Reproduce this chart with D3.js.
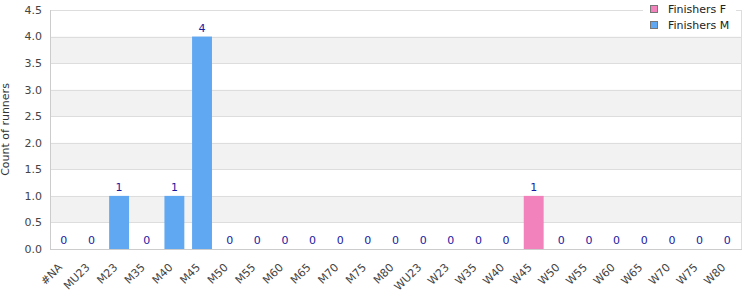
<!DOCTYPE html>
<html>
<head>
<meta charset="utf-8">
<script src="https://cdn.jsdelivr.net/npm/d3@7"></script>
<style>
  body { margin: 0; background: #fff; }
  text { font-family: "DejaVu Sans", Verdana, sans-serif; }
</style>
</head>
<body>
<div id="chart"></div>
<script>
"use strict";

// categories and the two series
var categories = ["#NA","MU23","M23","M35","M40","M45","M50","M55","M60","M65","M70","M75","M80",
                  "WU23","W23","W35","W40","W45","W50","W55","W60","W65","W70","W75","W80"];
var finishersF = [0,0,0,0,0,0,0,0,0,0,0,0,0, 0,0,0,0,1,0,0,0,0,0,0,0];
var finishersM = [0,0,1,0,1,4,0,0,0,0,0,0,0, 0,0,0,0,0,0,0,0,0,0,0,0];
var seriesNames = ["Finishers F", "Finishers M"];
var yTicks = [0,0.5,1,1.5,2,2.5,3,3.5,4,4.5];

var colors = { "Finishers F": "#f282bb", "Finishers M": "#60a8f2" };

var width = 750, height = 300;
var plotL = 50, plotR = 741, plotT = 10, plotB = 249;

var svg = d3.select("#chart").append("svg")
  .attr("width", width)
  .attr("height", height);

var x = d3.scaleBand()
  .domain(categories)
  .range([plotL, plotR])
  .paddingInner(0.28)
  .paddingOuter(0.14);

var y = d3.scaleLinear()
  .domain([0, 4.5])
  .range([plotB, plotT]);

// alternating bands
var bands = d3.range(0.5, 4.5, 1);
svg.selectAll("rect.band")
  .data(bands)
  .enter().append("rect")
  .attr("class", "band")
  .attr("x", plotL)
  .attr("width", plotR - plotL)
  .attr("y", function(d){ return y(d + 0.5); })
  .attr("height", function(d){ return y(d) - y(d + 0.5); })
  .attr("fill", "#f2f2f2");

// grid lines
svg.selectAll("line.grid")
  .data(yTicks)
  .enter().append("line")
  .attr("class", "grid")
  .attr("x1", plotL).attr("x2", plotR)
  .attr("y1", function(d){ return Math.round(y(d)) + 0.5; })
  .attr("y2", function(d){ return Math.round(y(d)) + 0.5; })
  .attr("stroke", "#dddddd");

// frame
svg.append("line")
  .attr("x1", plotR + 0.5).attr("x2", plotR + 0.5)
  .attr("y1", plotT).attr("y2", plotB)
  .attr("stroke", "#dddddd");
svg.append("line")
  .attr("x1", plotL + 0.5).attr("x2", plotL + 0.5)
  .attr("y1", plotT).attr("y2", plotB + 1)
  .attr("stroke", "#cccccc");
svg.append("line")
  .attr("x1", plotL).attr("x2", plotR + 1)
  .attr("y1", plotB + 0.5).attr("y2", plotB + 0.5)
  .attr("stroke", "#cccccc");

// stacked bars
var rows = categories.map(function(c, i){
  return { cat: c, "Finishers F": finishersF[i], "Finishers M": finishersM[i] };
});
var stack = d3.stack().keys(seriesNames)(rows);

svg.selectAll("g.series")
  .data(stack)
  .enter().append("g")
  .attr("class", "series")
  .attr("fill", function(d){ return colors[d.key]; })
  .selectAll("rect")
  .data(function(d){ return d; })
  .enter().append("rect")
  .attr("x", function(d){ return x(d.data.cat); })
  .attr("width", x.bandwidth())
  .attr("y", function(d){ return y(d[1]); })
  .attr("height", function(d){ return y(d[0]) - y(d[1]); });

// total labels
svg.selectAll("text.total")
  .data(rows)
  .enter().append("text")
  .attr("class", "total")
  .attr("x", function(d){ return x(d.cat) + x.bandwidth() / 2; })
  .attr("y", function(d){ return y(d["Finishers F"] + d["Finishers M"]) - 5; })
  .attr("text-anchor", "middle")
  .attr("font-size", "11px")
  .attr("fill", "#1a1aa0")
  .text(function(d){ return d["Finishers F"] + d["Finishers M"]; });

// y axis labels
svg.selectAll("text.ytick")
  .data(yTicks)
  .enter().append("text")
  .attr("class", "ytick")
  .attr("x", 42)
  .attr("y", function(d){ return y(d); })
  .attr("dy", "0.35em")
  .attr("text-anchor", "end")
  .attr("font-size", "11px")
  .attr("fill", "#444")
  .text(function(d){ return d.toFixed(1); });

svg.append("text")
  .attr("transform", "translate(9," + ((plotT + plotB) / 2) + ") rotate(-90)")
  .attr("text-anchor", "middle")
  .attr("font-size", "11px")
  .attr("fill", "#333")
  .text("Count of runners");

// x axis labels
svg.selectAll("text.xtick")
  .data(categories)
  .enter().append("text")
  .attr("class", "xtick")
  .attr("transform", function(d){
    return "translate(" + (x(d) + x.bandwidth() / 2 - 1) + ",268) rotate(-45)";
  })
  .attr("text-anchor", "end")
  .attr("font-size", "11px")
  .attr("fill", "#444")
  .text(function(d){ return d; });

// legend
var legend = svg.append("g");
legend.append("rect")
  .attr("x", 643).attr("y", 0)
  .attr("width", 93).attr("height", 34)
  .attr("fill", "#fff");
seriesNames.forEach(function(name, i){
  legend.append("rect")
    .attr("x", 650.5).attr("y", 5.5 + i * 16)
    .attr("width", 7).attr("height", 7)
    .attr("fill", colors[name])
    .attr("stroke", "#777");
  legend.append("text")
    .attr("x", 668).attr("y", 13 + i * 16)
    .attr("font-size", "11px")
    .attr("fill", "#222")
    .text(name);
});
</script>
</body>
</html>
